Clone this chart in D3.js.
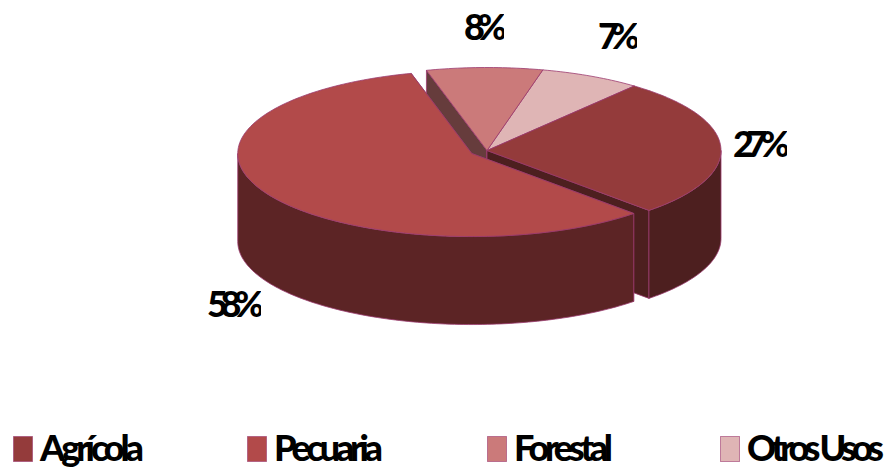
<!DOCTYPE html>
<html><head><meta charset="utf-8">
<script src="https://cdn.jsdelivr.net/npm/d3@7/dist/d3.min.js"></script>
<style>html,body{margin:0;padding:0;background:#fff}svg{display:block}
text{font-family:Lato,"Open Sans",sans-serif;font-weight:900;fill:#000}</style></head>
<body><svg id="c" width="886" height="468"></svg>
<script>
const categories = ["Agrícola","Pecuaria","Forestal","Otros Usos"];
const values = [27,58,8,7];
const labels = ["27%","58%","8%","7%"];
const topColors = ["#943b3b","#b24a4a","#cb7a7a","#dfb5b5"];
const wallColors = ["#4d1f1f","#5c2425","#663c3c","#8a6a6a"];
const stroke = "#9c3b70";
const W=886,H=468, cx=487, cy=150.5, rx=234, ry=83, depth=88, explode=[0,17.5,0,0];
const svg=d3.select("#c");
const startA=39*Math.PI/180;
const arcs=d3.pie().sort(null).startAngle(startA).endAngle(startA+2*Math.PI)(values);
const sx=d3.scaleLinear().domain([-1,1]).range([-rx,rx]);
const sy=d3.scaleLinear().domain([-1,1]).range([-ry,ry]);
const line=d3.line().x(d=>d[0]).y(d=>d[1]);
function centre(a,i){const m=(a.startAngle+a.endAngle)/2;const e=explode[i]/rx;
  return [cx+sx(Math.sin(m)*e),cy+sy(-Math.cos(m)*e)];}
function rim(c,t,z){return [c[0]+sx(Math.sin(t)),c[1]+sy(-Math.cos(t))+z];}
function samples(a,b){const n=Math.max(2,Math.ceil((b-a)/0.02));return d3.range(n+1).map(k=>a+(b-a)*k/n);}
const shape=(pts,fill)=>svg.append("path").attr("d",line(pts)+"Z").attr("fill",fill).attr("stroke",stroke).attr("stroke-width",.8).attr("stroke-linejoin","round");
function drawWalls(i){
  const a=arcs[i],c=centre(a,i);
  [a.startAngle,a.endAngle].forEach(t=>{
    const e=rim(c,t,0),e2=rim(c,t,depth);
    shape([c,[c[0],c[1]+depth],e2,e],wallColors[i]);
  });
  const off=2*Math.PI;
  [[Math.PI/2,3*Math.PI/2],[Math.PI/2+off,3*Math.PI/2+off]].forEach(([lo,hi])=>{
    const s=Math.max(a.startAngle,lo),t=Math.min(a.endAngle,hi);
    if(t>s){const ts=samples(s,t);
      shape(ts.map(v=>rim(c,v,0)).concat(ts.slice().reverse().map(v=>rim(c,v,depth))),wallColors[i]);}
  });
}
function drawTop(i){
  const a=arcs[i],c=centre(a,i),ts=samples(a.startAngle,a.endAngle);
  shape([c].concat(ts.map(v=>rim(c,v,0))),topColors[i]);
}
[3,2,0].forEach(drawWalls);
[3,2,0].forEach(drawTop);
drawWalls(1);drawTop(1);
// value labels, cut on the right as in the picture
const labelAt=[[733,157,57,54],[207,317,57,54],[464,40,43,40],[598,49,42,39]];
const defs=svg.append("defs");
labels.forEach((t,i)=>{const p=labelAt[i];
  defs.append("clipPath").attr("id","lc"+i).append("rect").attr("x",p[0]-3).attr("y",p[1]-40).attr("width",p[3]+3).attr("height",50);
  svg.append("g").attr("clip-path","url(#lc"+i+")").append("text").attr("x",p[0]).attr("y",p[1]).attr("font-size",36).attr("textLength",p[2]).attr("lengthAdjust","spacing").text(t);});
// legend
const legX=[13,247,487,720], txtW=[104,109,99,137];
categories.forEach((t,i)=>{
  svg.append("rect").attr("x",legX[i]+.5).attr("y",436.5).attr("width",19).attr("height",25).attr("fill",topColors[i]).attr("stroke",stroke).attr("stroke-opacity",.6);
  svg.append("text").attr("x",legX[i]+27).attr("y",461).attr("font-size",36).attr("textLength",txtW[i]).attr("lengthAdjust","spacing").text(t);
});
</script></body></html>
